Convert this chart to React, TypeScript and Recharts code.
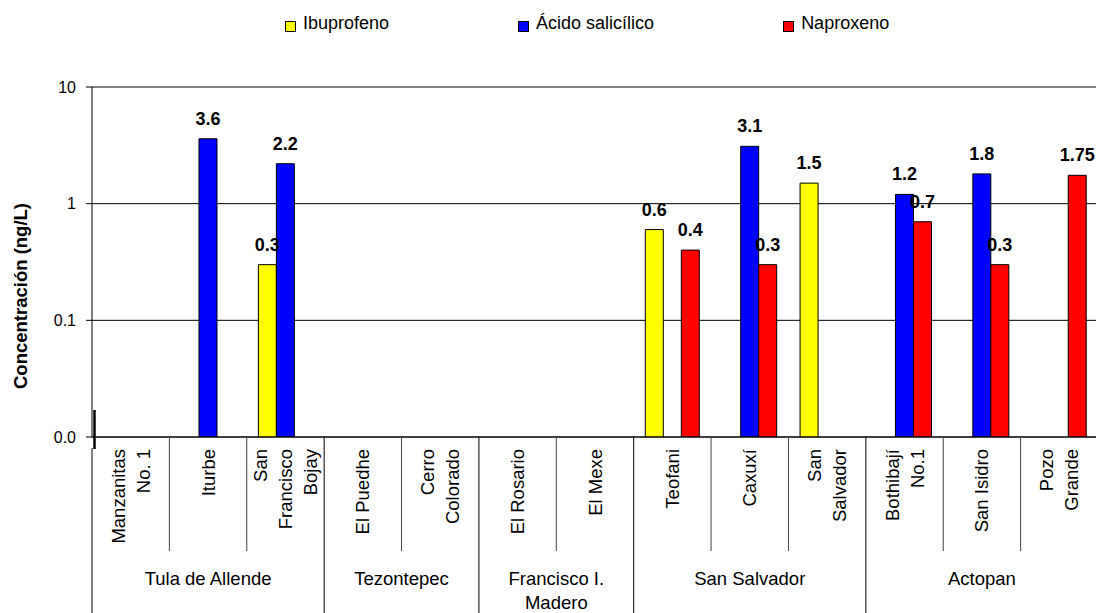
import React from 'react';
import { BarChart, Bar, XAxis, YAxis, CartesianGrid, LabelList } from 'recharts';

// Sampling sites (line breaks are drawn as separate rotated lines)
const sites = [
  'Manzanitas\nNo. 1',
  'Iturbe',
  'San\nFrancisco\nBojay',
  'El Puedhe',
  'Cerro\nColorado',
  'El Rosario',
  'El Mexe',
  'Teofani',
  'Caxuxí',
  'San\nSalvador',
  'Bothibají\nNo.1',
  'San Isidro',
  'Pozo\nGrande',
];

// Concentrations in ng/L (null = not detected)
const ibuprofeno = [null, null, 0.3, null, null, null, null, 0.6, null, 1.5, null, null, null];
const acidoSalicilico = [null, 3.6, 2.2, null, null, null, null, null, 3.1, null, 1.2, 1.8, null];
const naproxeno = [null, null, null, null, null, null, null, 0.4, 0.3, null, 0.7, 0.3, 1.75];

// Municipalities and how many sites belong to each one
const municipios = ['Tula de Allende', 'Tezontepec', 'Francisco I.\nMadero', 'San Salvador', 'Actopan'];
const sitesPerMunicipio = [3, 2, 2, 3, 3];

const yTicks = [0.01, 0.1, 1, 10];

const series = [
  { key: 'ibuprofeno', name: 'Ibuprofeno', color: '#FFFF00' },
  { key: 'acidoSalicilico', name: 'Ácido salicílico', color: '#0000FF' },
  { key: 'naproxeno', name: 'Naproxeno', color: '#FF0000' },
];

const data = sites.map((site, i) => ({
  site,
  ibuprofeno: ibuprofeno[i],
  acidoSalicilico: acidoSalicilico[i],
  naproxeno: naproxeno[i],
}));

const FONT = '"Liberation Sans", Arial, sans-serif';
const CHART_W = 1100;
const CHART_H = 613;
const Y_AXIS_W = 92;
const X_AXIS_H = 176;
const MARGIN = { top: 87, right: 2, left: 0, bottom: 0 };
const BAND = (CHART_W - Y_AXIS_W - MARGIN.right) / sites.length;

const groupStarts = sitesPerMunicipio.map((_, g) =>
  sitesPerMunicipio.slice(0, g).reduce((a, b) => a + b, 0)
);
const groupEnds = groupStarts.map((s, g) => s + sitesPerMunicipio[g] - 1);

function SiteTick(props: any) {
  const { x, y, payload, index } = props;
  const lines = String(payload.value).split('\n');
  const n = lines.length;
  const right = x + BAND / 2;
  const left = x - BAND / 2;
  const isGroupEnd = groupEnds.includes(index);
  const g = groupStarts.indexOf(index);

  return (
    <g>
      <text
        transform={`translate(${x},${y + 12}) rotate(-90)`}
        textAnchor="end"
        fontSize={18.5}
        fontFamily={FONT}
        fill="#000"
      >
        {lines.map((l, k) => (
          <tspan key={k} x={0} y={(k - (n - 1) / 2) * 25 + 6.5}>
            {l}
          </tspan>
        ))}
      </text>
      <line
        x1={right}
        x2={right}
        y1={y}
        y2={isGroupEnd ? y + X_AXIS_H : y + 114}
        stroke={isGroupEnd ? '#000' : '#444'}
        strokeWidth={1}
      />
      {index === 0 && (
        <>
          <line x1={left} x2={left} y1={y + 11} y2={y + X_AXIS_H} stroke="#000" />
          <line x1={left + 2.5} x2={left + 2.5} y1={y - 27} y2={y + 12} stroke="#000" strokeWidth={2.5} />
        </>
      )}
      {g >= 0 && (
        <text
          x={left + (sitesPerMunicipio[g] * BAND) / 2}
          y={y + 148}
          textAnchor="middle"
          fontSize={18.5}
          fontFamily={FONT}
          fill="#000"
        >
          {municipios[g].split('\n').map((l, k) => (
            <tspan key={k} x={left + (sitesPerMunicipio[g] * BAND) / 2} dy={k === 0 ? 0 : 24}>
              {l}
            </tspan>
          ))}
        </text>
      )}
    </g>
  );
}

function YTitle(props: any) {
  const vb = props.viewBox || { x: 0, y: MARGIN.top, width: Y_AXIS_W, height: 350 };
  const cy = vb.y + vb.height / 2 + 34;
  return (
    <text
      transform={`translate(20.5,${cy}) rotate(-90)`}
      textAnchor="middle"
      fontSize={18.5}
      fontWeight="bold"
      fontFamily={FONT}
      fill="#000"
    >
      <tspan x={0} y={6.5}>Concentración (ng/L)</tspan>
    </text>
  );
}

export default function App() {
  return (
    <div
      style={{
        position: 'absolute',
        left: 0,
        top: 0,
        width: 1096,
        height: 613,
        overflow: 'hidden',
        background: '#fff',
        fontFamily: FONT,
      }}
    >
      {/* Legend */}
      <div
        style={{
          position: 'absolute',
          left: 285,
          top: 11,
          display: 'flex',
          gap: 129,
          fontSize: 18,
          color: '#000',
          zIndex: 1,
        }}
      >
        {series.map(s => (
          <div key={s.key} style={{ display: 'flex', alignItems: 'center', height: 24 }}>
            <span
              style={{
                display: 'inline-block',
                width: 9,
                height: 9,
                background: s.color,
                border: '1px solid #000',
                marginRight: 7,
                marginTop: 6,
              }}
            />
            <span>{s.name}</span>
          </div>
        ))}
      </div>

      <BarChart
        width={CHART_W}
        height={CHART_H}
        data={data}
        margin={MARGIN}
        barCategoryGap="15%"
        barGap={0}
      >
        <CartesianGrid vertical={false} stroke="#000" strokeWidth={1} />
        <XAxis
          dataKey="site"
          height={X_AXIS_H}
          interval={0}
          tickSize={0}
          tickMargin={0}
          tickLine={false}
          axisLine={{ stroke: '#000' }}
          tick={(p: any) => <SiteTick {...p} />}
        />
        <YAxis
          type="number"
          scale="log"
          domain={[0.01, 10]}
          ticks={yTicks}
          allowDataOverflow
          width={Y_AXIS_W}
          tickSize={6}
          tickMargin={10}
          tickLine={{ stroke: '#000' }}
          axisLine={{ stroke: '#000' }}
          tick={{ fill: '#000', fontSize: 16, fontFamily: FONT }}
          tickFormatter={(v: number) => (v === 0.01 ? '0.0' : String(v))}
          label={{ content: (p: any) => <YTitle {...p} /> }}
        />
        {series.map(s => (
          <Bar
            key={s.key}
            dataKey={s.key}
            name={s.name}
            fill={s.color}
            stroke="#000"
            strokeWidth={1}
            isAnimationActive={false}
          >
            <LabelList
              dataKey={s.key}
              position="top"
              offset={14}
              style={{ fill: '#000', fontSize: 18, fontWeight: 'bold', fontFamily: FONT }}
            />
          </Bar>
        ))}
      </BarChart>
    </div>
  );
}
